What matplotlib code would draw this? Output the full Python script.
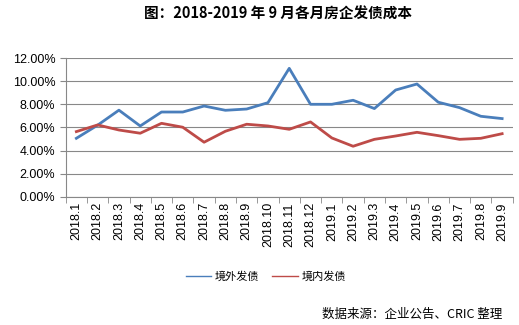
import numpy as np
import matplotlib
matplotlib.use("Agg")
import matplotlib.pyplot as plt
from matplotlib.ticker import FuncFormatter, FixedLocator

plt.rcParams['font.family'] = ['Noto Sans CJK SC', 'DejaVu Sans']

# data
months = ["2018.1", "2018.2", "2018.3", "2018.4", "2018.5", "2018.6", "2018.7",
          "2018.8", "2018.9", "2018.10", "2018.11", "2018.12", "2019.1", "2019.2",
          "2019.3", "2019.4", "2019.5", "2019.6", "2019.7", "2019.8", "2019.9"]
offshore = [5.06, 6.2, 7.5, 6.13, 7.34, 7.34, 7.86, 7.49, 7.6, 8.15, 11.13,
            8.01, 8.01, 8.36, 7.64, 9.25, 9.77, 8.19, 7.72, 6.97, 6.77]
onshore = [5.64, 6.22, 5.78, 5.5, 6.36, 6.02, 4.72, 5.67, 6.28, 6.13, 5.84,
           6.48, 5.09, 4.37, 4.97, 5.26, 5.58, 5.29, 4.97, 5.06, 5.46]

fig = plt.figure(figsize=(5.19, 3.25), dpi=100)
ax = fig.add_axes([0.1266, 0.395, 0.988 - 0.1266, 0.8206 - 0.395])

x = np.arange(len(months))
ax.plot(x, offshore, color='#4A7EBB', linewidth=2.0, label='境外发债')
ax.plot(x, onshore, color='#BE4B48', linewidth=2.0, label='境内发债')

ax.set_xlim(-0.5, len(months) - 0.5)
ax.set_ylim(0, 12)
ax.set_yticks(np.arange(0, 12.01, 2))
ax.yaxis.set_major_formatter(FuncFormatter(lambda v, p: f"{v:.2f}%"))
ax.grid(axis='y', color='#888888', linewidth=0.8)
ax.set_axisbelow(True)

ax.set_xticks(x)
ax.set_xticklabels(months, rotation=90, fontsize=9, family=['Liberation Sans', 'DejaVu Sans'])
ax.tick_params(axis='x', which='major', length=0, pad=4)
ax.xaxis.set_minor_locator(FixedLocator(np.arange(-0.5, len(months), 1)))
ax.tick_params(axis='x', which='minor', length=4, color='#888888')
ax.tick_params(axis='y', length=4, color='#888888', labelsize=9)
for lbl in ax.get_yticklabels():
    lbl.set_family(['Liberation Sans', 'DejaVu Sans'])

for s in ['top', 'right']:
    ax.spines[s].set_visible(False)
ax.spines['left'].set_color('#888888')
ax.spines['bottom'].set_color('#888888')

fig.text(0.535, 0.958, '图：2018-2019 年 9 月各月房企发债成本', ha='center', va='center',
         fontsize=10.5, fontweight='bold')

leg = fig.legend(loc='center', bbox_to_anchor=(0.512, 0.148), ncol=2, frameon=False,
                 fontsize=8, handlelength=2.3, columnspacing=1.2, handletextpad=0.3)
for h in leg.get_lines():
    h.set_linewidth(1.0)

fig.text(0.967, 0.034, '数据来源：企业公告、CRIC 整理', ha='right', va='center', fontsize=9)

fig.savefig('out.png', dpi=100)
